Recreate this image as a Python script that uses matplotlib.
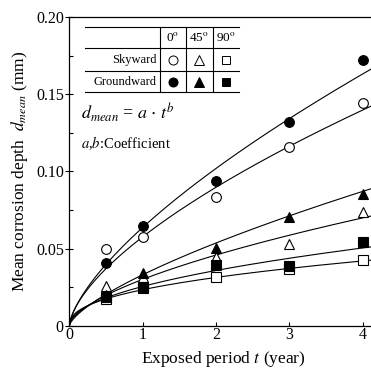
import numpy as np
import matplotlib
matplotlib.use("Agg")
from matplotlib import pyplot as plt
from matplotlib.ticker import MultipleLocator, FixedFormatter, FixedLocator

plt.rcParams['font.family'] = ['Liberation Serif', 'DejaVu Serif']
plt.rcParams['mathtext.fontset'] = 'stix'

# exposure periods (year)
t = [0.5, 1, 2, 3, 4]

# mean corrosion depth (mm)
sky_0 = [0.0496, 0.0572, 0.0832, 0.116, 0.1446]
sky_45 = [0.0258, 0.0317, 0.0447, 0.0530, 0.0739]
sky_90 = [0.0175, 0.0250, 0.0317, 0.0365, 0.0425]
gnd_0 = [0.0408, 0.0648, 0.0936, 0.1323, 0.1723]
gnd_45 = [0.0198, 0.0339, 0.0501, 0.0702, 0.0851]
gnd_90 = [0.0187, 0.0241, 0.0393, 0.0386, 0.0540]

# fitted d = a * t^b  (sky 0, 45, 90, ground 0, 45, 90)
coef_a = [0.0576, 0.0300, 0.0233, 0.0637, 0.0330, 0.0254]
coef_b = [0.640, 0.610, 0.424, 0.679, 0.700, 0.494]

series = [sky_0, sky_45, sky_90, gnd_0, gnd_45, gnd_90]
markers = ['o', '^', 's', 'o', '^', 's']
filled = [False, False, False, True, True, True]
msizes = [7, 7.5, 6.5, 7, 7.5, 6.5]

angle_labels = ['0$^{\\mathrm{o}}$', '45$^{\\mathrm{o}}$', '90$^{\\mathrm{o}}$']
row_labels = ['Skyward', 'Groundward']

fig = plt.figure(figsize=(3.71, 3.70), dpi=100)
ax = fig.add_axes([0.187, 0.120, 0.830, 0.833])

tt = np.linspace(0, 4.2, 300)
for a, b in zip(coef_a, coef_b):
    ax.plot(tt, a * tt ** b, color='black', lw=0.8, zorder=2)

for y, m, f, ms in zip(series, markers, filled, msizes):
    ax.plot(t, y, linestyle='none', marker=m, ms=ms,
            mfc='black' if f else 'white', mec='black', mew=0.8, zorder=3)

ax.set_xlim(0, 4.2)
ax.set_ylim(0, 0.2)
ax.xaxis.set_major_locator(FixedLocator([0, 1, 2, 3, 4]))
ax.yaxis.set_major_locator(FixedLocator([0, 0.05, 0.10, 0.15, 0.20]))
ax.yaxis.set_major_formatter(FixedFormatter(['0', '0.05', '0.10', '0.15', '0.20']))
ax.yaxis.set_minor_locator(MultipleLocator(0.025))
ax.tick_params(axis='x', direction='in', length=3, width=0.8, labelsize=11.5, pad=1)
ax.tick_params(axis='y', which='major', direction='inout', length=6, width=0.8,
               labelsize=11.5, pad=1)
ax.tick_params(axis='y', which='minor', direction='in', length=3, width=0.8)
ax.spines['right'].set_visible(False)
for s in ['left', 'bottom', 'top']:
    ax.spines[s].set_linewidth(0.9)

ax.set_xlabel('Exposed period $\\it{t}$ (year)', fontsize=12.5, labelpad=4)
ax.set_ylabel('Mean corrosion depth  $\\it{d}_{mean}$ (mm)', fontsize=12.5, labelpad=4)

# table in upper left (axes coordinates)
tr = ax.transAxes
h_lines = [0.9695, 0.8994, 0.8267, 0.7567]
v_lines = [0.2939, 0.3784, 0.4651]
x0, x1 = 0.0503, 0.5505
for hy in h_lines:
    ax.plot([x0, x1], [hy, hy], color='black', lw=0.8, transform=tr, clip_on=False)
for vx in v_lines:
    ax.plot([vx, vx], [h_lines[0], h_lines[-1]], color='black', lw=0.8, transform=tr)

col_c = [0.3361, 0.4218, 0.5078]
row_c = [0.9345, 0.863, 0.7917]
for cx, lab in zip(col_c, angle_labels):
    ax.text(cx, row_c[0], lab, transform=tr, ha='center', va='center', fontsize=9.5)
for i, lab in enumerate(row_labels):
    ax.text(0.284, row_c[i + 1], lab, transform=tr, ha='right', va='center', fontsize=9)
for k in range(6):
    r = 1 if k < 3 else 2
    ax.plot([col_c[k % 3]], [row_c[r]], transform=tr, linestyle='none',
            marker=markers[k], ms=msizes[k] - 0.5,
            mfc='black' if filled[k] else 'white', mec='black', mew=0.7)

ax.text(0.037, 0.690, '$d_{mean}$ = $a$ $\\cdot$ $t^{b}$', transform=tr,
        ha='left', va='center', fontsize=13)
ax.text(0.037, 0.592, '$a$,$b$:Coefficient', transform=tr,
        ha='left', va='center', fontsize=10.5)

fig.savefig('out.png', dpi=100)
